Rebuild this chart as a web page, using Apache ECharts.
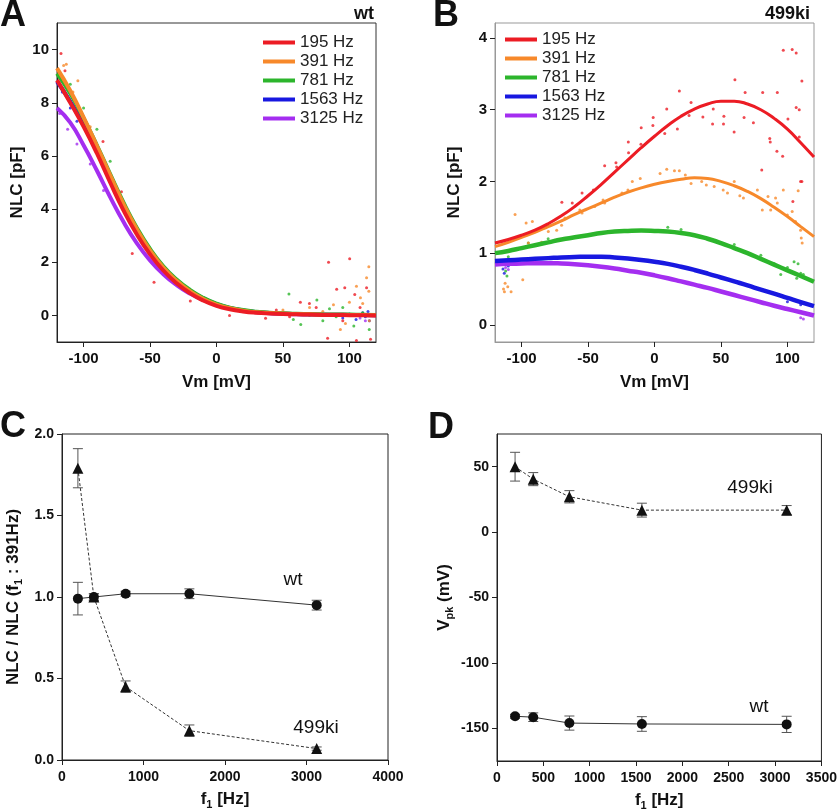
<!DOCTYPE html>
<html><head><meta charset="utf-8">
<script src="https://cdn.jsdelivr.net/npm/echarts@6/dist/echarts.min.js"></script>
<style>html,body{margin:0;padding:0;background:#fff}#c{width:840px;height:812px}</style>
</head><body><div id="c"></div>
<script>
// ---------- DATA ----------
const freqNames = ['195 Hz', '391 Hz', '781 Hz', '1563 Hz', '3125 Hz'];
const colors = ['#ec1c24', '#f7892b', '#2cb52c', '#1818e0', '#a42ef0'];

// Panel A (wt) fitted curves, Vm grid
const aV = [-120,-110,-100,-90,-80,-70,-60,-50,-40,-30,-20,-10,0,10,20,30,40,50,60,70,80,90,100,110,120];
const aRed    = [8.85,8.0,7.1,6.1,5.0,3.95,3.05,2.3,1.69,1.21,0.84,0.56,0.36,0.23,0.15,0.1,0.07,0.05,0.04,0.03,0.02,0.015,0.01,0.005,0.0];
const aOrange = [9.3,8.45,7.45,6.38,5.28,4.2,3.25,2.45,1.8,1.3,0.91,0.62,0.41,0.27,0.18,0.12,0.09,0.07,0.05,0.04,0.03,0.025,0.02,0.015,0.01];
const aGreen  = [9.1,8.35,7.42,6.4,5.32,4.25,3.3,2.5,1.85,1.35,0.96,0.66,0.44,0.29,0.2,0.14,0.1,0.08,0.06,0.05,0.04,0.035,0.03,0.025,0.02];
const aBlue   = [8.8,8.05,7.16,6.18,5.14,4.12,3.2,2.43,1.8,1.31,0.93,0.64,0.43,0.28,0.19,0.13,0.09,0.07,0.05,0.04,0.03,0.025,0.02,0.015,0.01];
const aPurple = [7.8,7.25,6.4,5.45,4.45,3.52,2.72,2.07,1.55,1.14,0.82,0.58,0.4,0.27,0.18,0.12,0.08,0.06,0.04,0.035,0.03,0.025,0.02,0.015,0.01];

// Panel A measured points (outliers visible outside the fitted bands)
const aPtsRed    = [[-117,9.85],[-114,9.2],[-85.4,6.54],[-71.5,4.65],[-63.4,2.33],[-47,1.25],[-19.7,0.54],[9.8,0],[36.9,-0.11],[63.1,0.5],[69.9,0.45],[84.3,2.0],[100.2,2.13],[83.6,-0.86],[115.9,-0.9],[105.3,-0.94],[90.4,0.98],[96.5,1.04],[104,0.79],[112.9,1.04],[45,0.2],[55,-0.05],[75,0.3],[95,-0.2],[108,0.3]];
const aPtsOrange = [[-115,9.4],[-113,9.45],[-104.3,8.83],[-108,8.4],[-95,7.1],[114.6,1.83],[112.9,1.42],[105.3,1.1],[114.6,0.91],[108.3,0.66],[100,0.5],[110,0.45],[93.2,-0.53],[70,0.3],[80,0.15],[88,0.4],[60,0.05],[50,0.2],[97,-0.3],[115,-0.2]];
const aPtsGreen  = [[-110,8.7],[-100,7.8],[-90,7.0],[-80,5.8],[54.5,0.81],[75.5,0.58],[57.8,-0.15],[63.4,-0.34],[80,-0.2],[90,-0.05],[103.3,-0.4],[114.9,-0.53],[95,0.3],[110,0.1],[45,0.1],[70,0.0],[85,0.25]];
const aPtsBlue   = [[-116,8.4],[-110,7.8],[-105,7.3],[95,-0.1],[100,0.05],[105,-0.15],[110,0.1],[112,-0.05],[114,0.15],[115,-0.2]];
const aPtsPurple = [[-118,7.6],[-112,7.0],[-105,6.45],[-95,5.7],[-85,4.7],[108,-0.1],[112,-0.2],[114,0.0]];

// Panel B (499ki) fitted curves
const bV = [-120,-110,-100,-90,-80,-70,-60,-50,-40,-30,-20,-10,0,10,20,30,40,50,60,70,80,90,100,110,120];
const bRed    = [1.14,1.19,1.25,1.32,1.41,1.52,1.65,1.8,1.96,2.13,2.3,2.47,2.63,2.78,2.91,3.01,3.08,3.12,3.12,3.08,3.0,2.88,2.73,2.54,2.34];
const bOrange = [1.09,1.15,1.22,1.29,1.37,1.45,1.54,1.62,1.7,1.78,1.85,1.91,1.96,2.0,2.03,2.05,2.04,2.0,1.94,1.86,1.76,1.64,1.51,1.37,1.23];
const bGreen  = [1.0,1.03,1.07,1.11,1.15,1.19,1.22,1.25,1.28,1.3,1.31,1.315,1.31,1.3,1.28,1.25,1.2,1.14,1.07,1.0,0.92,0.84,0.76,0.68,0.6];
const bBlue   = [0.89,0.9,0.91,0.92,0.93,0.94,0.945,0.95,0.95,0.94,0.925,0.905,0.88,0.85,0.81,0.765,0.715,0.66,0.605,0.55,0.49,0.435,0.375,0.315,0.26];
const bPurple = [0.84,0.85,0.855,0.86,0.86,0.855,0.845,0.83,0.81,0.785,0.755,0.725,0.69,0.65,0.605,0.56,0.515,0.465,0.415,0.365,0.315,0.265,0.22,0.175,0.13];

// Panel B measured points
const bPtsRed = [[96.9,3.83],[103.6,3.84],[106.6,3.79],[60.5,3.42],[110.9,3.4],[18.7,3.26],[68.2,3.24],[81.4,3.24],[92.4,3.24],[27.5,3.1],[9.2,3.01],[106.6,3.03],[108.9,3.0],[36.4,2.9],[44.2,3.01],[26,2.92],[67.4,2.89],[52.2,2.91],[-1,2.89],[-1.2,2.78],[43.7,2.8],[51.9,2.8],[74.4,2.82],[100.4,2.87],[-10,2.75],[17.2,2.73],[59.9,2.69],[7.7,2.67],[108.9,2.62],[86.7,2.6],[87.1,2.55],[-10.2,2.52],[-19.7,2.55],[-19.5,2.4],[92.1,2.42],[96.4,2.35],[-29,2.26],[-28.5,2.2],[-37.5,2.22],[80.7,2.16],[110.9,2.0],[-54.5,1.84],[-46,1.88],[-69.7,1.71],[-61.9,1.7],[-84.9,1.34],[104.1,1.72],[109.9,2.0]];
const bPtsOrange = [[9.2,2.17],[15,2.15],[18.7,2.15],[4.2,2.11],[23.2,2.09],[-10.7,2.04],[-16.7,2.0],[27.5,1.97],[35.5,2.0],[39,1.95],[44.9,1.93],[51.7,1.88],[60,2.0],[54.9,1.84],[64.2,1.8],[66.9,1.77],[77.4,1.88],[85.4,1.79],[91.1,1.77],[92.4,1.7],[81.1,1.6],[87.4,1.6],[96.9,1.88],[99.9,1.53],[103.6,1.58],[106.1,1.44],[108.1,1.87],[109.9,1.32],[110.4,1.21],[111.1,1.14],[-20,1.88],[-24.5,1.84],[-38.7,1.74],[-37.5,1.7],[-45,1.65],[-56.2,1.6],[-54.5,1.56],[-67.4,1.49],[-69.9,1.39],[-73.6,1.32],[-79.9,1.3],[-91.9,1.44],[-96.6,1.42],[-104.9,1.54],[-74.9,1.18],[-84.9,1.15],[-94.9,1.14],[-112.4,0.58],[-110.4,0.53],[-99.1,0.63],[-113.6,0.5],[-112.9,0.46],[-107.9,0.46]];
const bPtsGreen = [[-112,0.75],[-111,0.68],[-113,0.85],[-110,0.95],[-95,1.14],[-80,1.2],[10,1.36],[20,1.33],[60,1.12],[80,0.97],[90,0.85],[100,0.8],[105,0.88],[108,0.85],[110,0.72],[107,0.65],[112,0.7],[95,0.7]];
const bPtsBlue = [[-112,0.9],[-113,0.72],[-110,0.82],[-108,0.88],[-114,0.78],[100,0.32],[110,0.28],[112,0.3]];
const bPtsPurple = [[-112,0.8],[-110,0.77],[110,0.1],[112,0.08]];

// Panels C and D
const f1 = [195, 391, 781, 1563, 3125];
const cWtMean = [0.99, 1.0, 1.02, 1.02, 0.95];
const cWtErr  = [0.10, 0.02, 0.015, 0.03, 0.03];
const cKiMean = [1.79, 1.0, 0.45, 0.18, 0.07];
const cKiErr  = [0.12, 0.02, 0.035, 0.035, 0.01];
const dKiMean = [50, 40.5, 27, 16.8, 16.8];
const dKiErr  = [11, 5, 4.7, 5.3, 3.5];
const dWtMean = [-140.8, -141.5, -146, -146.7, -147];
const dWtErr  = [1.5, 3.3, 5.4, 5.6, 6.2];

// ---------- CHART ----------
const FONT = '"Liberation Sans", Arial, Helvetica, sans-serif';
const chart = echarts.init(document.getElementById('c'), null, {renderer: 'canvas'});

function axisBase(o) {
  return Object.assign({
    type: 'value',
    splitLine: {show: false},
    axisLine: {show: true, onZero: false, lineStyle: {color: o.lineColor || '#222', width: 1}},
    axisTick: {show: true, inside: false, length: 5, lineStyle: {color: '#222'}, customValues: o.ticks},
    axisLabel: {show: true, margin: o.margin || 8, fontFamily: FONT, fontWeight: 'bold', fontSize: o.fs || 15, color: '#111', customValues: o.ticks, formatter: o.fmt || (v => String(v))},
    nameLocation: 'middle',
    nameTextStyle: Object.assign({fontFamily: FONT, fontWeight: 'bold', fontSize: 17, color: '#111'}, o.nts || {})
  }, o.ax);
}

const richSub = {
  b: {fontFamily: FONT, fontWeight: 'bold', fontSize: 17, lineHeight: 22, color: '#111'},
  s: {fontFamily: FONT, fontWeight: 'bold', fontSize: 11, lineHeight: 11, verticalAlign: 'bottom', color: '#111'}
};

const xAxes = [
  axisBase({ticks: [-100,-50,0,50,100], margin: 9, ax: {gridIndex: 0, min: -120, max: 120, name: 'Vm [mV]', nameGap: 32}}),
  axisBase({ticks: [-100,-50,0,50,100], margin: 9, lineColor: '#999', ax: {gridIndex: 1, min: -120, max: 120, name: 'Vm [mV]', nameGap: 32}}),
  axisBase({fs: 14, margin: 10, ax: {gridIndex: 2, min: 0, max: 4000, interval: 1000, name: '{b|f}{s|1}{b| [Hz]}', nameGap: 28}, nts: {rich: richSub}}),
  axisBase({fs: 14, margin: 10, ax: {gridIndex: 3, min: 0, max: 3500, interval: 500, name: '{b|f}{s|1}{b| [Hz]}', nameGap: 28}, nts: {rich: richSub}})
];
const yAxes = [
  axisBase({ticks: [0,2,4,6,8,10], margin: 8, ax: {gridIndex: 0, min: -1, max: 11, name: 'NLC [pF]', nameGap: 31}}),
  axisBase({ticks: [0,1,2,3,4], margin: 8, lineColor: '#999', ax: {gridIndex: 1, min: -0.24, max: 4.21, name: 'NLC [pF]', nameGap: 32}}),
  axisBase({fs: 14, margin: 8, fmt: v => v.toFixed(1), ax: {gridIndex: 2, min: 0, max: 2, interval: 0.5, name: '{b|NLC / NLC (f}{s|1}{b| : 391Hz)}', nameGap: 38}, nts: {rich: richSub}}),
  axisBase({fs: 14, margin: 8, ticks: [-150,-100,-50,0,50], ax: {gridIndex: 3, min: -175, max: 75, name: '{b|V}{s|pk}{b| (mV)}', nameGap: 42}, nts: {rich: richSub}})
];

const series = [];
const aCurves = [aRed, aOrange, aGreen, aBlue, aPurple];
const aPts = [aPtsRed, aPtsOrange, aPtsGreen, aPtsBlue, aPtsPurple];
const bCurves = [bRed, bOrange, bGreen, bBlue, bPurple];
const bPts = [bPtsRed, bPtsOrange, bPtsGreen, bPtsBlue, bPtsPurple];

for (let i = 4; i >= 0; i--) {
  series.push({type: 'scatter', name: freqNames[i] + ' A pts', xAxisIndex: 0, yAxisIndex: 0, data: aPts[i], symbolSize: 3, itemStyle: {color: colors[i]}, silent: true, z: 2});
}
for (let i = 4; i >= 0; i--) {
  series.push({type: 'line', name: freqNames[i], xAxisIndex: 0, yAxisIndex: 0, data: aV.map((v, k) => [v, aCurves[i][k]]), smooth: true, symbol: 'none', lineStyle: {color: colors[i], width: 4}, itemStyle: {color: colors[i]}, z: 3});
}
for (let i = 4; i >= 0; i--) {
  series.push({type: 'scatter', name: freqNames[i] + ' B pts', xAxisIndex: 1, yAxisIndex: 1, data: bPts[i], symbolSize: 3, itemStyle: {color: colors[i]}, silent: true, z: 2});
}
for (let i = 4; i >= 0; i--) {
  series.push({type: 'line', name: freqNames[i], xAxisIndex: 1, yAxisIndex: 1, data: bV.map((v, k) => [v, bCurves[i][k]]), smooth: true, symbol: 'none', lineStyle: {color: colors[i], width: i < 2 ? 3 : 4.5}, itemStyle: {color: colors[i]}, z: 3});
}

function errBar(params, api) {
  const x = api.value(0), lo = api.value(1), hi = api.value(2);
  const p1 = api.coord([x, lo]), p2 = api.coord([x, hi]);
  const w = 5;
  const st = {stroke: '#555', lineWidth: 1};
  return {type: 'group', children: [
    {type: 'line', shape: {x1: p1[0], y1: p1[1], x2: p2[0], y2: p2[1]}, style: st},
    {type: 'line', shape: {x1: p1[0] - w, y1: p1[1], x2: p1[0] + w, y2: p1[1]}, style: st},
    {type: 'line', shape: {x1: p2[0] - w, y1: p2[1], x2: p2[0] + w, y2: p2[1]}, style: st}
  ]};
}
function addGroup(grid, means, errs, symbol, dashed) {
  series.push({type: 'custom', xAxisIndex: grid, yAxisIndex: grid, renderItem: errBar,
    data: f1.map((f, k) => [f, means[k] - errs[k], means[k] + errs[k]]), encode: {x: 0, y: [1, 2]}, silent: true, z: 2});
  series.push({type: 'line', xAxisIndex: grid, yAxisIndex: grid, data: f1.map((f, k) => [f, means[k]]),
    symbol: symbol, symbolSize: symbol === 'triangle' ? 11 : 10, showAllSymbol: true,
    lineStyle: {color: '#333', width: 1, type: dashed ? [3, 2] : 'solid'}, itemStyle: {color: '#111'}, z: 3, silent: true});
}
addGroup(2, cWtMean, cWtErr, 'circle', false);
addGroup(2, cKiMean, cKiErr, 'triangle', true);
addGroup(3, dKiMean, dKiErr, 'triangle', true);
addGroup(3, dWtMean, dWtErr, 'circle', false);

const legendBase = {orient: 'vertical', padding: 0, itemWidth: 32, itemHeight: 4, itemGap: 2, icon: 'rect', selectedMode: false,
  textStyle: {fontFamily: FONT, fontSize: 17, color: '#222', lineHeight: 17}, data: freqNames};

function txt(x, y, s, size, weight, align) {
  return {type: 'text', x: x, y: y, silent: true, style: {text: s, fontFamily: FONT, fontSize: size, fontWeight: weight, fill: '#111', align: align || 'left', verticalAlign: 'middle'}};
}

chart.setOption({
  animation: false,
  backgroundColor: '#fff',
  grid: [
    {left: 57, top: 23, width: 319, height: 319, show: true, borderColor: '#333', borderWidth: 1},
    {left: 495, top: 23, width: 319, height: 319, show: true, borderColor: '#999', borderWidth: 1},
    {left: 62, top: 434, width: 326, height: 326, show: true, borderColor: '#222', borderWidth: 1},
    {left: 497, top: 434, width: 326, height: 327, show: true, borderColor: '#222', borderWidth: 1}
  ],
  legend: [
    Object.assign({}, legendBase, {left: 263, top: 34}),
    Object.assign({}, legendBase, {left: 505, top: 31})
  ],
  xAxis: xAxes,
  yAxis: yAxes,
  series: series,
  graphic: [
    txt(0, 16, 'A', 36, 'bold'),
    txt(433, 16, 'B', 36, 'bold'),
    txt(0, 427, 'C', 36, 'bold'),
    txt(428, 428, 'D', 36, 'bold'),
    txt(374, 14, 'wt', 18, 'bold', 'right'),
    txt(810, 14, '499ki', 18, 'bold', 'right'),
    txt(293, 580, 'wt', 19, 'normal', 'center'),
    txt(316, 728, '499ki', 19, 'normal', 'center'),
    txt(750, 488, '499ki', 19, 'normal', 'center'),
    txt(759, 707, 'wt', 19, 'normal', 'center')
  ]
});
</script></body></html>
